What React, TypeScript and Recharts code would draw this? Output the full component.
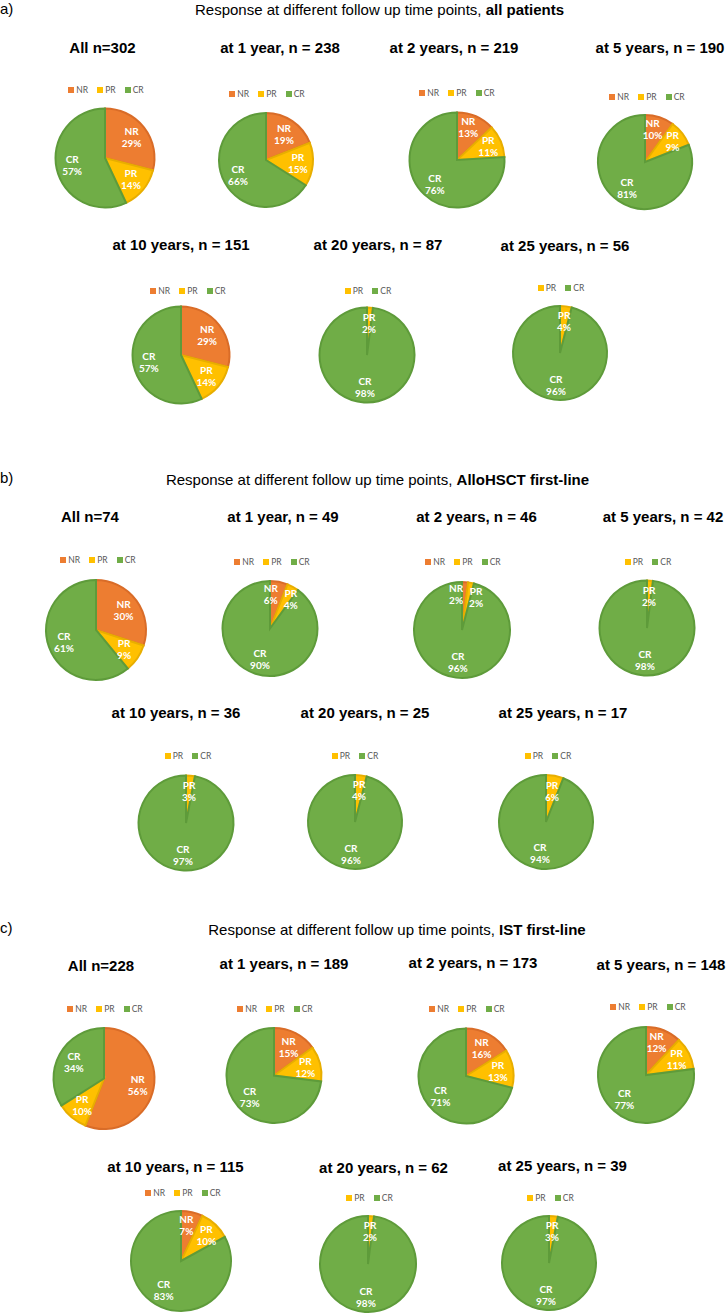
import React from "react";
import { PieChart, Pie, Cell, Legend } from "recharts";

// ---------- DATA ----------
const categories = ["NR", "PR", "CR"];

const sectionLetters = ["a)", "b)", "c)"];
const titlePrefix = "Response at different follow up time points, ";
const sectionSubjects = ["all patients", "AlloHSCT first-line", "IST first-line"];

// a) all patients
const aTitles = ["All n=302", "at 1 year, n = 238", "at 2 years, n = 219", "at 5 years, n = 190", "at 10 years, n = 151", "at 20 years, n = 87", "at 25 years, n = 56"];
const aNR = [29, 19, 13, 10, 29, 0, 0];
const aPR = [14, 15, 11, 9, 14, 2, 4];
const aCR = [57, 66, 76, 81, 57, 98, 96];

// b) AlloHSCT first-line
const bTitles = ["All n=74", "at 1 year, n = 49", "at 2 years, n = 46", "at 5 years, n = 42", "at 10 years, n = 36", "at 20 years, n = 25", "at 25 years, n = 17"];
const bNR = [30, 6, 2, 0, 0, 0, 0];
const bPR = [9, 4, 2, 2, 3, 4, 6];
const bCR = [61, 90, 96, 98, 97, 96, 94];

// c) IST first-line
const cTitles = ["All n=228", "at 1 years, n = 189", "at 2 years, n = 173", "at 5 years, n = 148", "at 10 years, n = 115", "at 20 years, n = 62", "at 25 years, n = 39"];
const cNR = [56, 15, 16, 12, 7, 0, 0];
const cPR = [10, 12, 13, 11, 10, 2, 3];
const cCR = [34, 73, 71, 77, 83, 98, 97];

// ---------- STYLE / LAYOUT ----------
const fills: Record<string, string> = { NR: "#ED7D31", PR: "#FFC000", CR: "#70AD47" };
const strokes: Record<string, string> = { NR: "#D96C28", PR: "#E8AE00", CR: "#5E9B3A" };

const headerPos = [
  { lx: 0, ly: 9, tx: 379.5, ty: 10 },
  { lx: 0, ly: 478, tx: 377.5, ty: 480 },
  { lx: 0, ly: 928, tx: 397, ty: 930 },
];

type P = [number, number];
const titlePos: P[][] = [
  [[102.5, 48], [280, 48], [454, 48], [660, 48], [181, 245], [378, 245], [565, 246]],
  [[90, 517], [283, 517], [476.5, 517], [663, 517], [176, 713], [365, 713], [563, 713]],
  [[101, 966], [284, 964], [473, 963], [661, 965], [175.5, 1167], [383.5, 1168], [562.5, 1166]],
];
const legendPos: P[][] = [
  [[106, 90], [267, 94], [457, 93], [647, 97], [188, 291], [368, 291], [561, 288]],
  [[98, 560], [272, 562], [463, 562], [648, 562], [188, 756], [355, 756], [548, 756]],
  [[105, 1009], [275, 1009], [467, 1009], [648, 1007], [183, 1193], [369.5, 1198], [550.5, 1198]],
];
const piePos: [number, number, number][][] = [
  [[104.5, 158, 50.5], [266, 160, 48], [456.5, 160, 48.5], [645, 162, 48], [181, 355, 49.5], [366.5, 355, 48.5], [560, 353, 48]],
  [[96, 630, 51], [270, 628.5, 48.5], [462, 630, 49], [646.5, 628, 48.5], [186, 823, 48.5], [355, 822, 48], [546, 822, 48]],
  [[103.5, 1078.5, 51.5], [273.5, 1075.5, 48.5], [465.5, 1076, 48.5], [646, 1075, 49], [181, 1261, 51], [368, 1264, 49], [549, 1263, 48]],
];

const sections = [
  { titles: aTitles, series: [aNR, aPR, aCR] },
  { titles: bTitles, series: [bNR, bPR, bCR] },
  { titles: cTitles, series: [cNR, cPR, cCR] },
];

const RAD = Math.PI / 180;
const LABEL_R = 0.68;
const MIN_GAP = 20;

// Label renderer that nudges labels of small adjacent slices apart (like Excel's best fit)
const makeLabel = (data: { name: string; value: number }[]) => (p: any) => {
  const { cx, cy, midAngle, outerRadius, index } = p;
  const total = data.reduce((s, d) => s + d.value, 0);
  const frac = (i: number) => data[i].value / total;
  const r = outerRadius * LABEL_R;
  const pos = (ang: number) => ({
    x: cx + r * Math.cos(-ang * RAD),
    y: cy + r * Math.sin(-ang * RAD),
  });
  const me = pos(midAngle);
  let x = me.x;
  let y = me.y;
  if (index + 1 < data.length) {
    const nAng = midAngle - (frac(index) + frac(index + 1)) * 180;
    const n = pos(nAng);
    const d = Math.abs(n.x - me.x);
    if (d < MIN_GAP && Math.abs(n.y - me.y) < 20) {
      x -= (MIN_GAP - d) / 2;
      y -= 3;
    }
  }
  if (index - 1 >= 0) {
    const pAng = midAngle + (frac(index) + frac(index - 1)) * 180;
    const q = pos(pAng);
    const d = Math.abs(me.x - q.x);
    if (d < MIN_GAP && Math.abs(q.y - me.y) < 20) {
      x += (MIN_GAP - d) / 2;
      y -= 1;
    }
  }
  const name = data[index]?.name ?? p.name;
  const value = data[index]?.value ?? p.value;
  return (
    <text
      fill="#FFFFFF"
      textAnchor="middle"
      fontFamily="Lato, 'Open Sans', sans-serif"
      fontWeight={700}
      fontSize={10}
    >
      <tspan x={x} y={y - 2}>{name}</tspan>
      <tspan x={x} y={y + 10}>{value}%</tspan>
    </text>
  );
};

const renderLegend = (props: any) => {
  const payload = [...(props.payload || [])].sort(
    (a: any, b: any) => categories.indexOf(a.value) - categories.indexOf(b.value)
  );
  return (
    <div
      style={{
        display: "flex",
        justifyContent: "center",
        alignItems: "center",
        height: 20,
        fontFamily: "Lato, 'Open Sans', sans-serif",
        fontSize: 8.5,
        color: "#595959",
      }}
    >
      {payload.map((e: any) => (
        <span key={e.value} style={{ display: "flex", alignItems: "center", margin: "0 4.5px" }}>
          <span style={{ width: 6, height: 6, background: fills[e.value], marginRight: 2, display: "inline-block" }} />
          {e.value}
        </span>
      ))}
    </div>
  );
};

function Panel({ title, tp, lp, pp, data }: any) {
  const [tx, ty] = tp;
  const [lx, ly] = lp;
  const [px, py, r] = pp;
  const W = 200;
  const left = px - W / 2;
  const top = ly - 10;
  const H = Math.ceil(py + r + 6 - top);
  return (
    <>
      <div
        style={{
          position: "absolute",
          left: tx - 150,
          top: ty - 9,
          width: 300,
          textAlign: "center",
          fontFamily: "'Liberation Sans', Arial, sans-serif",
          fontWeight: 700,
          fontSize: 15,
          lineHeight: "18px",
          color: "#000",
          whiteSpace: "nowrap",
        }}
      >
        {title}
      </div>
      <div style={{ position: "absolute", left, top }}>
        <PieChart width={W} height={H} margin={{ top: 0, right: 0, bottom: 0, left: 0 }}>
          <Pie
            data={data}
            dataKey="value"
            nameKey="name"
            cx={W / 2}
            cy={py - top}
            outerRadius={r - 1}
            startAngle={90}
            endAngle={-270}
            isAnimationActive={false}
            label={makeLabel(data)}
            labelLine={false}
          >
            {data.map((d: any) => (
              <Cell key={d.name} fill={fills[d.name]} stroke={strokes[d.name]} strokeWidth={2} />
            ))}
          </Pie>
          <Legend
            layout="horizontal"
            verticalAlign="middle"
            align="center"
            wrapperStyle={{ top: 0, left: lx - px, width: W, height: 20 }}
            content={renderLegend}
          />
        </PieChart>
      </div>
    </>
  );
}

export default function App() {
  return (
    <div
      style={{
        position: "absolute",
        left: 0,
        top: 0,
        width: 726,
        height: 1314,
        background: "#fff",
        overflow: "hidden",
        fontFamily: "'Liberation Sans', Arial, sans-serif",
      }}
    >
      {sections.map((s, si) => {
        const h = headerPos[si];
        return (
          <React.Fragment key={si}>
            <div style={{ position: "absolute", left: h.lx, top: h.ly - 9, fontSize: 15, lineHeight: "18px" }}>
              {sectionLetters[si]}
            </div>
            <div
              style={{
                position: "absolute",
                left: h.tx - 250,
                top: h.ty - 9,
                width: 500,
                textAlign: "center",
                fontSize: 15,
                lineHeight: "18px",
                whiteSpace: "nowrap",
              }}
            >
              {titlePrefix}
              <b>{sectionSubjects[si]}</b>
            </div>
            {s.titles.map((t, i) => {
              const data = categories
                .map((c, ci) => ({ name: c, value: s.series[ci][i] }))
                .filter((d) => d.value > 0);
              return (
                <Panel
                  key={i}
                  title={t}
                  tp={titlePos[si][i]}
                  lp={legendPos[si][i]}
                  pp={piePos[si][i]}
                  data={data}
                />
              );
            })}
          </React.Fragment>
        );
      })}
    </div>
  );
}
